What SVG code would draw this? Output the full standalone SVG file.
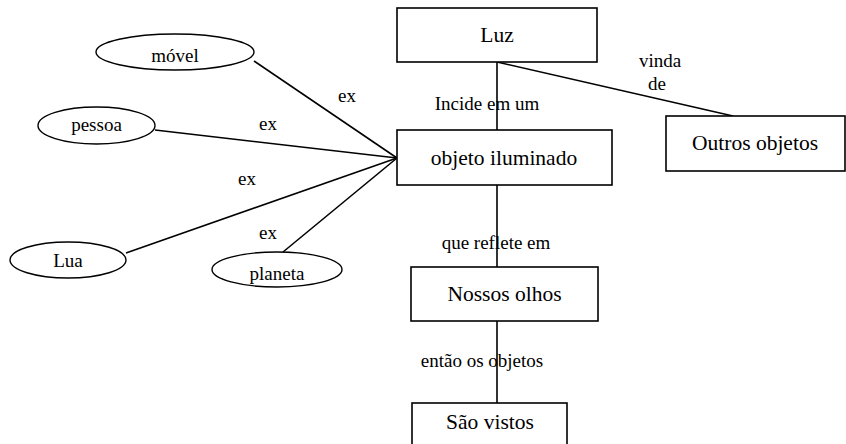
<svg xmlns="http://www.w3.org/2000/svg" width="846" height="444" viewBox="0 0 846 444">
<style>
.box{fill:#fff;stroke:#000;stroke-width:1.6}
.ell{fill:#fff;stroke:#000;stroke-width:1.4}
.ln{stroke:#000;stroke-width:1.6;fill:none}
text{font-family:'Liberation Serif','Times New Roman',Times,'DejaVu Serif',serif;fill:#000;text-anchor:middle}
.nt{font-size:21.5px}
.et{font-size:19px}
.lb{font-size:19px}
</style>
<rect width="846" height="444" fill="#fff"/>
<g id="connectors">
<line class="ln" x1="497" y1="62" x2="497" y2="130"/>
<line class="ln" x1="497" y1="62" x2="733" y2="116"/>
<line class="ln" x1="497" y1="185" x2="497" y2="267"/>
<line class="ln" x1="497" y1="321" x2="497" y2="403"/>
<line class="ln" x1="254" y1="61" x2="397" y2="158"/>
<line class="ln" x1="155" y1="130" x2="397" y2="158"/>
<line class="ln" x1="126" y1="253" x2="397" y2="158"/>
<line class="ln" x1="283" y1="252" x2="397" y2="158"/>
<text class="lb" x="347" y="102">ex</text>
<text class="lb" x="268" y="130">ex</text>
<text class="lb" x="247" y="185">ex</text>
<text class="lb" x="268" y="239">ex</text>
<text class="lb" x="660" y="67">vinda</text>
<text class="lb" x="657" y="90">de</text>
<text class="lb" x="487" y="110">Incide em um</text>
<text class="lb" x="496" y="249">que reflete em</text>
<text class="lb" x="482" y="367">então os objetos</text>
</g>
<g id="luz"><rect class="box" x="397" y="8" width="200" height="54"/><text class="nt" x="497" y="42">Luz</text></g>
<g id="objeto"><rect class="box" x="397" y="130" width="215" height="55"/><text class="nt" x="504" y="165">objeto iluminado</text></g>
<g id="outros"><rect class="box" x="666" y="116" width="179" height="55"/><text class="nt" x="755" y="150">Outros objetos</text></g>
<g id="olhos"><rect class="box" x="411" y="267" width="187" height="54"/><text class="nt" x="504.5" y="301">Nossos olhos</text></g>
<g id="vistos"><rect class="box" x="412" y="403" width="155" height="50"/><text class="nt" x="490" y="429">São vistos</text></g>
<g id="movel"><ellipse class="ell" cx="175" cy="52" rx="79" ry="18"/><text class="et" x="175" y="62">móvel</text></g>
<g id="pessoa"><ellipse class="ell" cx="96.5" cy="125.5" rx="58.5" ry="18.5"/><text class="et" x="96.5" y="131">pessoa</text></g>
<g id="lua"><ellipse class="ell" cx="68" cy="260" rx="58" ry="18"/><text class="et" x="68" y="267">Lua</text></g>
<g id="planeta"><ellipse class="ell" cx="277" cy="269.5" rx="65" ry="17.5"/><text class="et" x="277" y="280">planeta</text></g>
</svg>
